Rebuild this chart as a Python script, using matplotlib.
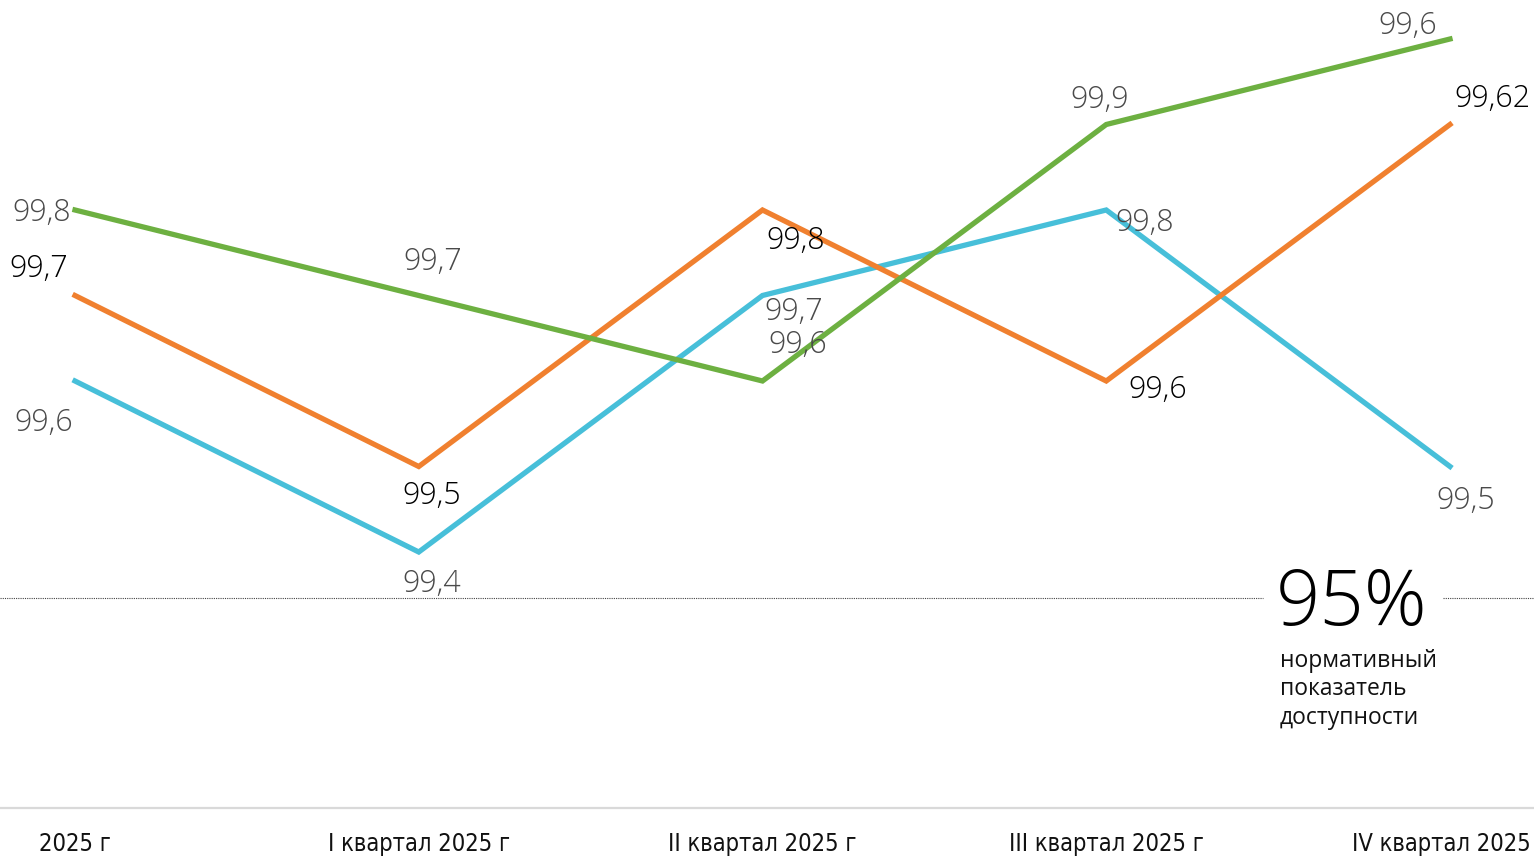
import matplotlib
matplotlib.use("Agg")
import matplotlib.pyplot as plt

# категории по оси X
periods = ["2025 г", "I квартал 2025 г", "II квартал 2025 г",
           "III квартал 2025 г", "IV квартал 2025 г"]

# положение точек на графике
green_vals = [99.8, 99.7, 99.6, 99.9, 100.0]
orange_vals = [99.7, 99.5, 99.8, 99.6, 99.9]
cyan_vals = [99.6, 99.4, 99.7, 99.8, 99.5]

# подписи значений
green_labels = ["99,8", "99,7", "99,6", "99,9", "99,6"]
orange_labels = ["99,7", "99,5", "99,8", "99,6", "99,62"]
cyan_labels = ["99,6", "99,4", "99,7", "99,8", "99,5"]

norm_value = "95%"
norm_text = "нормативный\nпоказатель\nдоступности"

GREEN = "#6db041"
ORANGE = "#f0802f"
CYAN = "#47bfd9"
GRAY_TXT = "#4a4a4a"

NUM_FONT = ["Open Sans", "DejaVu Sans"]
AX_FONT = ["DejaVu Sans"]

fig = plt.figure(figsize=(15.34, 8.56), dpi=100)
ax = fig.add_axes([0, 48 / 856, 1, 808 / 856])

x = list(range(len(periods)))
ax.set_xlim(-75 / 343.75, 4 + 84 / 343.75)
ax.set_ylim(99.1006, 100.0456)

ax.plot(x, cyan_vals, color=CYAN, lw=3.8, solid_joinstyle="miter", zorder=3)
ax.plot(x, orange_vals, color=ORANGE, lw=3.8, solid_joinstyle="miter", zorder=3)
ax.plot(x, green_vals, color=GREEN, lw=3.8, solid_joinstyle="miter", zorder=3)

# смещения подписей (пиксели)
green_off = [(-33, -3), (14, 33), (35, 36), (-7, 24), (-42, 13)]
orange_off = [(-36, 26), (13, -29), (33, -31), (52, -9), (42, 25)]
cyan_off = [(-31, -42), (13, -32), (31, -17), (38, -13), (16, -34)]

series = [
    (green_vals, green_labels, green_off, GRAY_TXT),
    (orange_vals, orange_labels, orange_off, "black"),
    (cyan_vals, cyan_labels, cyan_off, GRAY_TXT),
]
for vals, labs, offs, col in series:
    for i in range(len(vals)):
        ax.annotate(labs[i], (x[i], vals[i]), xytext=offs[i],
                    textcoords="offset pixels", ha="center", va="center",
                    fontsize=22, color=col, family=NUM_FONT,
                    fontweight="light", annotation_clip=False, zorder=4)

# нормативная линия 95%
ax.axhline(99.3462, xmin=0, xmax=1263 / 1534, color="#444444", lw=0.8,
           ls=(0, (1, 1)), zorder=1)
ax.axhline(99.3462, xmin=1443 / 1534, xmax=1, color="#444444", lw=0.8,
           ls=(0, (1, 1)), zorder=1)
ax.text(1352 / 1534, 99.338, norm_value, transform=ax.get_yaxis_transform(),
        ha="center", va="center", fontsize=56, family=NUM_FONT,
        fontweight="light", color="black")
ax.text(1280 / 1534, 99.287, norm_text, transform=ax.get_yaxis_transform(),
        ha="left", va="top", fontsize=16.5, family=NUM_FONT,
        color="#111111", linespacing=1.26)

for s in ["top", "left", "right"]:
    ax.spines[s].set_visible(False)
ax.spines["bottom"].set_color("#d9d9d9")
ax.spines["bottom"].set_linewidth(1.6)
ax.set_yticks([])
ax.set_xticks(x)
ax.set_xticklabels(periods, family=AX_FONT, fontsize=17, color="#111111",
                   fontstretch="condensed")
ax.tick_params(axis="x", length=0, pad=17)

fig.savefig("out.png", dpi=100)
